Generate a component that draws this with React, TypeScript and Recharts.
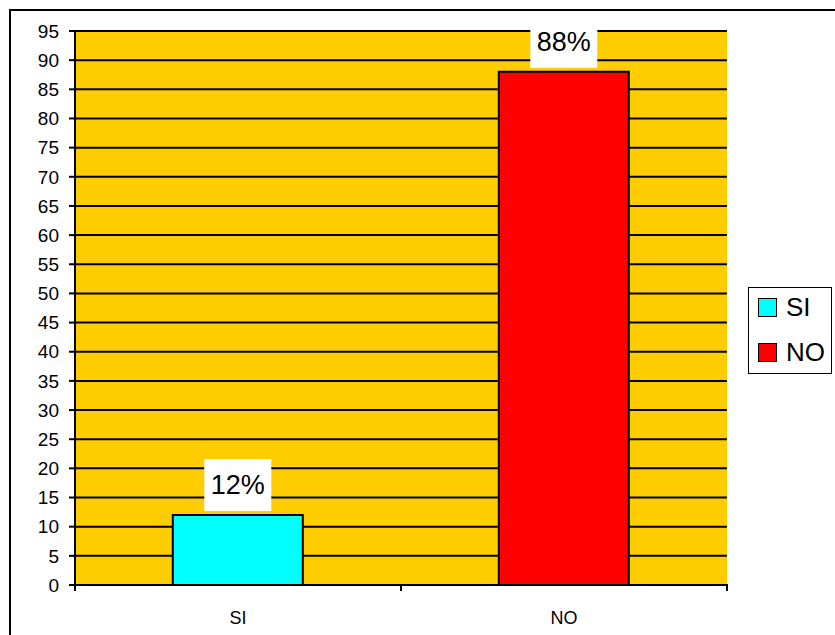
import React from 'react';
import { BarChart, Bar, XAxis, YAxis, CartesianGrid, LabelList, Cell } from 'recharts';

const categories = ['SI', 'NO'];
const values = [12, 88];
const labels = ['12%', '88%'];
const colors = ['#00FFFF', '#FF0000'];
const yTicks = [0, 5, 10, 15, 20, 25, 30, 35, 40, 45, 50, 55, 60, 65, 70, 75, 80, 85, 90, 95];

const data = categories.map((name, i) => ({ name, value: values[i], label: labels[i] }));

const FONT = '"Liberation Sans", Arial, sans-serif';

const ValueLabel = (props: any) => {
  const { x, y, width, value } = props;
  const cx = x + width / 2;
  const w = 67;
  const h = 52;
  return (
    <g>
      <rect x={cx - w / 2} y={y - 4 - h} width={w} height={h} fill="#fff" />
      <text x={cx} y={y - 4 - h / 2} textAnchor="middle" dominantBaseline="central"
        fontFamily={FONT} fontSize={27} fill="#000">
        {value}
      </text>
    </g>
  );
};

// category label plus tick marks on the band edges, like the old spreadsheet style
const CategoryTick = (props: any) => {
  const { x, y, payload } = props;
  const half = payload.offset || 0;
  return (
    <g>
      <line x1={x - half} x2={x - half} y1={y - 7} y2={y} stroke="#000" strokeWidth={2} />
      <line x1={x + half} x2={x + half} y1={y - 7} y2={y} stroke="#000" strokeWidth={2} />
      <text x={x} y={y + 33} textAnchor="middle" fontFamily={FONT} fontSize={18} fill="#000">
        {payload.value}
      </text>
    </g>
  );
};

const LegendBox = () => (
  <div style={{
    position: 'absolute', left: 748, top: 287,
    border: '1px solid #000', background: '#fff', width: 84, height: 87,
    boxSizing: 'border-box', padding: '6px 0 0 9px', fontFamily: FONT,
  }}>
    {categories.map((c, i) => (
      <div key={c} style={{ display: 'flex', alignItems: 'center', height: 26, marginTop: i === 0 ? 0 : 19 }}>
        <span style={{
          display: 'inline-block', width: 19, height: 19, background: colors[i],
          border: '1px solid #000', boxSizing: 'border-box', marginRight: 9,
        }} />
        <span style={{ fontSize: 26, color: '#000', lineHeight: '26px' }}>{c}</span>
      </div>
    ))}
  </div>
);

export default function App() {
  return (
    <div style={{ position: 'absolute', left: 0, top: 0, width: 835, height: 635, background: '#fff' }}>
      <div style={{
        position: 'absolute', left: 9, top: 9, width: 826, height: 626,
        borderLeft: '2px solid #000', borderTop: '2px solid #000', boxSizing: 'border-box',
      }} />
      <div style={{ position: 'absolute', left: 0, top: 0 }}>
        <BarChart width={835} height={635} data={data}
          margin={{ top: 31, right: 108, bottom: 0, left: 0 }} barCategoryGap="30%">
          <CartesianGrid vertical={false} stroke="#000" strokeWidth={2} fill="#FFCC00" />
          <XAxis dataKey="name" height={50} tickLine={false} axisLine={{ stroke: '#000', strokeWidth: 2 }}
            tick={<CategoryTick />} tickMargin={0} />
          <YAxis width={75} domain={[0, 95]} ticks={yTicks} interval={0}
            axisLine={{ stroke: '#000', strokeWidth: 2 }} tickLine={{ stroke: '#000', strokeWidth: 2 }}
            tickSize={6} tickMargin={10} tick={{ fill: '#000', fontSize: 19, fontFamily: FONT }} />
          <Bar dataKey="value" stroke="#000" strokeWidth={2} isAnimationActive={false}>
            {data.map((d, i) => <Cell key={d.name} fill={colors[i]} />)}
            <LabelList dataKey="label" content={<ValueLabel />} />
          </Bar>
        </BarChart>
      </div>
      <LegendBox />
    </div>
  );
}
